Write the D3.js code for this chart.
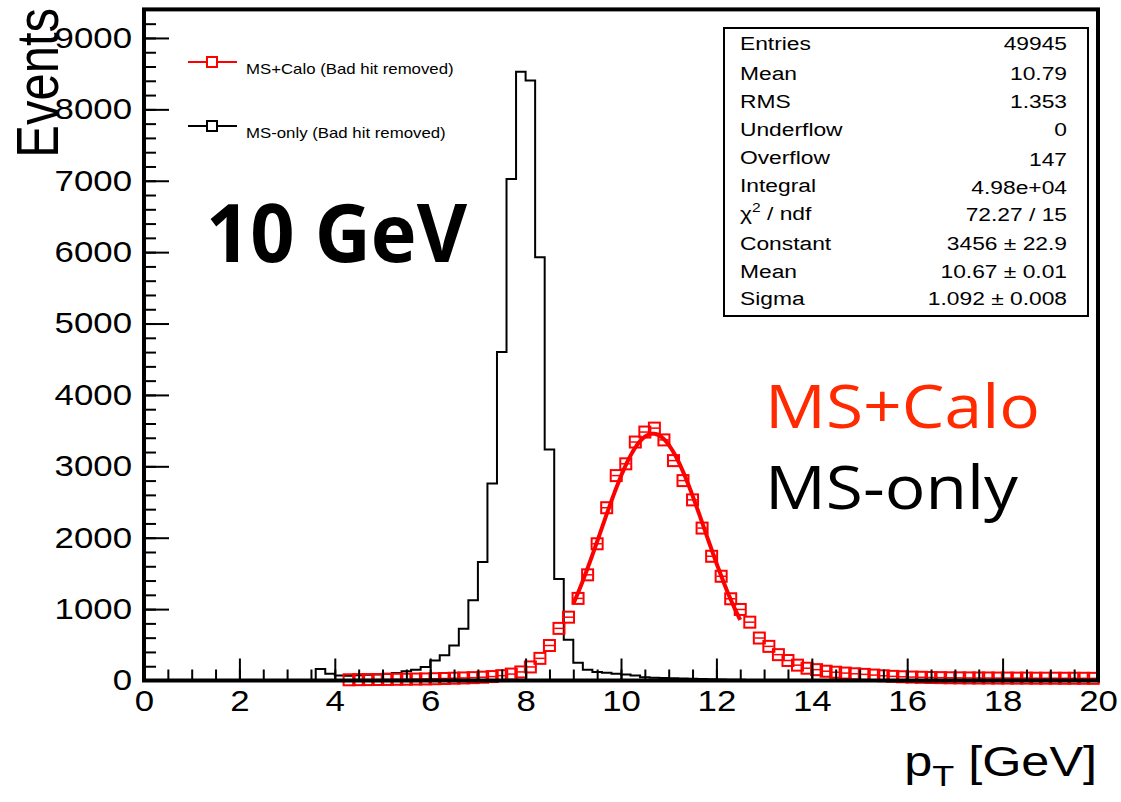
<!DOCTYPE html>
<html>
<head>
<meta charset="utf-8">
<script src="https://cdn.jsdelivr.net/npm/d3@7"></script>
<style>
  html, body { margin: 0; padding: 0; background: #fff; }
  svg { display: block; }
  .root-text { font-family: "Liberation Sans", Arial, Helvetica, sans-serif; }
  .slide-text { font-family: "Open Sans", "Noto Sans", sans-serif; }
</style>
</head>
<body>
<svg id="chart" width="1121" height="802"></svg>
<script>
// ---- binning ----
const binWidth = 0.2;
const xRange = [0, 20];
const yRange = [0, 9400];

// MS-only histogram: lower edge of the first filled bin, then contents of consecutive 0.2 GeV bins
const msOnlyStart = 3.6;
const msOnlyCounts = [
  160, 95, 70, 68, 75, 80, 85, 95, 105, 130,
  150, 190, 280, 355, 490, 725, 1125, 1660, 2760, 4600,
  7025, 8525, 8405, 5930, 3235, 1420, 570, 250, 150, 118,
  110, 95, 85, 70, 46, 40, 35, 30, 28, 25,
  20, 18, 15, 12, 10, 8, 6, 5, 4, 3
];

// MS+Calo histogram: bin centres and contents
const msCaloCenters = d3.range(4.3, 20, 0.2).map(v => +v.toFixed(1));
const msCaloCounts = [
  10, 12, 13, 14, 15, 17, 18, 20, 22, 25,
  28, 32, 36, 40, 46, 55, 68, 90, 120, 190,
  310, 490, 730, 887, 1150, 1480, 1915, 2420, 2870, 3035,
  3340, 3480, 3535, 3370, 3080, 2800, 2530, 2135, 1740, 1460,
  1145, 995, 817, 595, 478, 362, 280, 215, 172, 152,
  130, 116, 104, 94, 86, 76, 66, 58, 52, 48,
  45, 42, 40, 38, 37, 36, 35, 35, 34, 34,
  33, 33, 32, 32, 32, 31, 31, 31, 30
];

// Gaussian fit to MS+Calo
const fitConstant = 3456;
const fitMean = 10.67;
const fitSigma = 1.092;
const fitRange = [9.0, 12.5];

// axis ticks
const xMajorTicks = d3.range(0, 21, 2);
const xMinorTicks = d3.range(0, 20.01, 0.5);
const yMajorTicks = d3.range(0, 9001, 1000);
const yMinorTicks = d3.range(0, 9401, 200);

// statistics box rows
const statLabels = ["Entries", "Mean", "RMS", "Underflow", "Overflow", "Integral", "CHI2", "Constant", "Mean", "Sigma"];
const statValues = ["49945", "10.79", "1.353", "0", "147", "4.98e+04", "72.27 / 15", "3456 \u00b1 22.9", "10.67 \u00b1 0.01", "1.092 \u00b1 0.008"];

const legendLabels = ["MS+Calo (Bad hit removed)", "MS-only (Bad hit removed)"];
const seriesColors = ["#ff0000", "#000000"];

// ---- layout ----
const svg = d3.select("#chart");
const frame = { left: 144, right: 1098, top: 9.4, bottom: 680.5 };
const STRETCH = 1.2; // canvas text is drawn horizontally widened

const x = d3.scaleLinear().domain(xRange).range([frame.left, frame.right]);
const y = d3.scaleLinear().domain(yRange).range([frame.bottom, frame.top]);

// helper: horizontally stretched text
function sText(parent, px, py, str, size, anchor, fill) {
  const g = parent.append("g").attr("transform", `translate(${px},${py}) scale(${STRETCH},1)`);
  return g.append("text")
    .attr("class", "root-text")
    .attr("x", 0).attr("y", 0)
    .attr("font-size", size)
    .attr("text-anchor", anchor || "start")
    .attr("fill", fill || "#000")
    .text(str);
}

// ---- MS-only step histogram ----
const msOnlyBins = msOnlyCounts.map((c, i) => ({ x0: msOnlyStart + i * binWidth, x1: msOnlyStart + (i + 1) * binWidth, c }));
const stepPts = [[xRange[0], 0], [msOnlyStart, 0]];
msOnlyBins.forEach(b => { stepPts.push([b.x0, b.c]); stepPts.push([b.x1, b.c]); });
stepPts.push([msOnlyBins[msOnlyBins.length - 1].x1, 0]);
stepPts.push([xRange[1], 0]);
svg.append("path")
  .attr("d", d3.line().x(d => x(d[0])).y(d => y(d[1]))(stepPts))
  .attr("fill", "none").attr("stroke", "#000").attr("stroke-width", 2);

// ---- MS+Calo markers with horizontal error bars ----
const red = svg.append("g");
msCaloCenters.forEach((cx, i) => {
  const c = msCaloCounts[i];
  red.append("line")
    .attr("x1", x(cx - binWidth / 2)).attr("x2", x(cx + binWidth / 2))
    .attr("y1", y(c)).attr("y2", y(c))
    .attr("stroke", "#ff0000").attr("stroke-width", 1.5);
});
const ms = 11;
red.selectAll("rect.mk").data(msCaloCenters.map((cx, i) => ({ cx, c: msCaloCounts[i] })))
  .join("rect")
  .attr("x", d => x(d.cx) - ms / 2).attr("y", d => y(d.c) - ms / 2)
  .attr("width", ms).attr("height", ms)
  .attr("fill", "none").attr("stroke", "#ff0000").attr("stroke-width", 2);

// ---- Gaussian fit curve ----
const fitXs = d3.range(fitRange[0], fitRange[1] + 1e-9, 0.02);
svg.append("path")
  .attr("d", d3.line()
    .x(v => x(v))
    .y(v => y(fitConstant * Math.exp(-0.5 * Math.pow((v - fitMean) / fitSigma, 2))))(fitXs))
  .attr("fill", "none").attr("stroke", "#ff0000").attr("stroke-width", 4);

// ---- axes ----
const axX = svg.append("g").attr("transform", `translate(0,${frame.bottom})`);
axX.append("g").call(d3.axisBottom(x).tickValues(xMinorTicks).tickSize(-11).tickFormat(""));
const axXMajor = axX.append("g").call(d3.axisBottom(x).tickValues(xMajorTicks).tickSize(-22).tickPadding(10).tickFormat(d3.format("d")));
axXMajor.selectAll("text").attr("class", "root-text").attr("font-size", 29).attr("fill", "#000")
  .attr("transform", `scale(${STRETCH},1)`);
const axY = svg.append("g").attr("transform", `translate(${frame.left},0)`);
axY.append("g").call(d3.axisLeft(y).tickValues(yMinorTicks).tickSize(-12).tickFormat(""));
const axYMajor = axY.append("g").call(d3.axisLeft(y).tickValues(yMajorTicks).tickSize(-25).tickPadding(10).tickFormat(d3.format("d")));
axYMajor.selectAll("text").attr("class", "root-text").attr("font-size", 29).attr("fill", "#000")
  .attr("transform", `scale(${STRETCH},1)`);
svg.selectAll(".domain").remove();
svg.selectAll(".tick line").attr("stroke", "#000").attr("stroke-width", 2);

// frame
svg.append("rect")
  .attr("x", frame.left).attr("y", frame.top)
  .attr("width", frame.right - frame.left).attr("height", frame.bottom - frame.top)
  .attr("fill", "none").attr("stroke", "#000").attr("stroke-width", 4);

// axis titles
const yTitle = svg.append("g").attr("transform", `translate(58,8) scale(${STRETCH},1) rotate(-90)`);
yTitle.append("text").attr("class", "root-text").attr("font-size", 49).attr("text-anchor", "end").text("Events");

const xTitle = svg.append("g").attr("transform", `translate(1097,776) scale(${STRETCH},1)`);
const xt = xTitle.append("text").attr("class", "root-text").attr("font-size", 42).attr("text-anchor", "end");
xt.append("tspan").text("p");
xt.append("tspan").attr("font-size", 30).attr("dy", 10).text("T");
xt.append("tspan").attr("dy", -10).text(" [GeV]");

// ---- legend ----
const legRows = [62, 126];
legRows.forEach((ly, i) => {
  svg.append("line").attr("x1", 188).attr("x2", 237).attr("y1", ly).attr("y2", ly)
    .attr("stroke", seriesColors[i]).attr("stroke-width", 2);
  svg.append("rect").attr("x", 207).attr("y", ly - 5).attr("width", 10).attr("height", 10)
    .attr("fill", "#fff").attr("stroke", seriesColors[i]).attr("stroke-width", 2);
  sText(svg, 246, ly + 12, legendLabels[i], 14, "start", "#000");
});

// ---- statistics box ----
svg.append("rect").attr("x", 724).attr("y", 28).attr("width", 364).attr("height", 288)
  .attr("fill", "#fff").attr("stroke", "#000").attr("stroke-width", 2);
const labelBase = [50, 80, 108, 136, 164, 192, 220, 250, 278, 305];
const valueBase = [50, 80, 108, 136, 166, 194, 221, 250, 278, 305];
statLabels.forEach((lab, i) => {
  if (lab === "CHI2") {
    const g = svg.append("g").attr("transform", `translate(740,${labelBase[i]}) scale(${STRETCH},1)`);
    const t = g.append("text").attr("class", "root-text").attr("font-size", 19);
    t.append("tspan").text("\u03c7");
    t.append("tspan").attr("font-size", 13).attr("dy", -8).text("2");
    t.append("tspan").attr("dy", 8).text(" / ndf");
  } else {
    sText(svg, 740, labelBase[i], lab, 19, "start");
  }
  sText(svg, 1067, valueBase[i], statValues[i], 19, "end");
});

// ---- annotations ----
svg.append("text").attr("class", "slide-text").attr("x", 206).attr("y", 262)
  .attr("font-weight", 700)
  .attr("font-size", 80).attr("textLength", 261).attr("lengthAdjust", "spacingAndGlyphs")
  .text("10 GeV");
svg.append("text").attr("class", "slide-text").attr("x", 765).attr("y", 428)
  .attr("font-size", 60).attr("fill", "#ff2a00").attr("textLength", 275).attr("lengthAdjust", "spacingAndGlyphs")
  .text("MS+Calo");
svg.append("text").attr("class", "slide-text").attr("x", 765).attr("y", 509)
  .attr("font-size", 60).attr("fill", "#000").attr("textLength", 253).attr("lengthAdjust", "spacingAndGlyphs")
  .text("MS-only");
</script>
</body>
</html>
